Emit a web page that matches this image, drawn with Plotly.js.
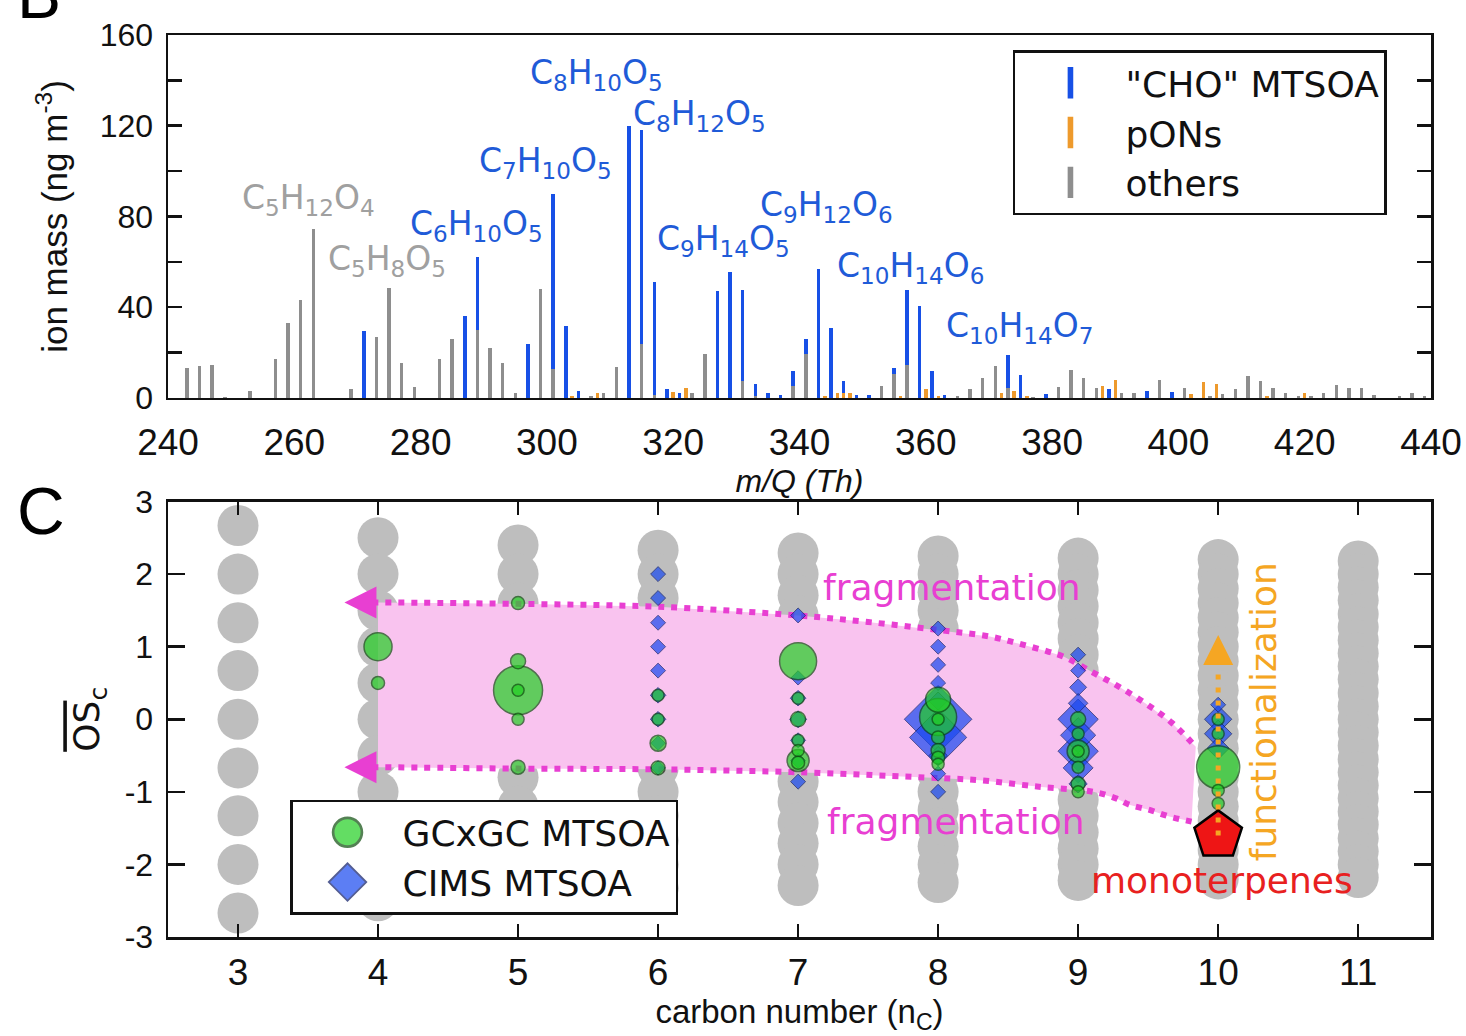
<!DOCTYPE html>
<html><head><meta charset="utf-8">
<script src="https://cdn.plot.ly/plotly-3.0.1.min.js"></script>
<style>html,body{margin:0;padding:0;background:#fff;}#chart{width:1466px;height:1036px;}</style>
</head><body><div id="chart"></div>
<script>
// ---------- Panel B : mass spectrum (m/Q, ion mass ng m-3) ----------
const othersMz  = [243,245,247,249,253,257,259,261,263,269,273,275,277,279,283,285,289,291,293,295,299,301,307,309,311,315,317,323,325,331,333,339,341,353,355,357,365,367,369,371,373,377,381,383,385,387,391,393,397,401,405,407,409,411,413,415,417,419,421,423,425,427,429,431,435,437,439];
const othersVal = [13,14,14.5,0.5,3,17,33,43,74.5,4,27,48.5,15.5,5,17.3,26,30,22,15.5,2,48,12.6,1,2.3,13.6,24,1.5,2,19.2,7.5,1,5.3,19.2,5.3,10.7,14.5,1,3.8,9,14,4.2,0.5,5,12.2,9,4.2,2.3,2.3,7.8,4.5,1,1.6,3.8,9.7,7.5,4.2,2.3,1,1,2.3,5.7,4.5,4.5,1.5,1,2,1];
const ponsMz    = [304,308,320,322,344,346,347,348,356,360,362,372,374,376,388,390,402,404,406,414,420];
const ponsVal   = [1,2.3,2.8,4.5,1,2,2.3,2,1,3.8,1,2.3,3,1,5.3,7.8,1.6,7.2,6,1,2.3];
const choMz     = [271,287,289,297,301,303,305,313,315,317,319,321,327,329,331,333,335,337,339,341,343,345,347,349,351,355,357,359,361,363,373,375,379,389,395,399];
const choVal    = [29.5,36,32,23.6,77.4,31.6,3,120,94,49.5,3.8,2.3,47,55.5,40.3,5,2,1.3,6.6,6.6,57,31,5.2,1.5,1.5,2.3,33.3,40.4,11.9,1.3,14.7,10,1.6,3.8,3.2,2.6];
const seriesNames = ['"CHO" MTSOA', 'pONs', 'others'];

const peakLabels = ['C<sub>5</sub>H<sub>12</sub>O<sub>4</sub>','C<sub>5</sub>H<sub>8</sub>O<sub>5</sub>','C<sub>6</sub>H<sub>10</sub>O<sub>5</sub>','C<sub>7</sub>H<sub>10</sub>O<sub>5</sub>','C<sub>8</sub>H<sub>10</sub>O<sub>5</sub>','C<sub>8</sub>H<sub>12</sub>O<sub>5</sub>','C<sub>9</sub>H<sub>14</sub>O<sub>5</sub>','C<sub>9</sub>H<sub>12</sub>O<sub>6</sub>','C<sub>10</sub>H<sub>14</sub>O<sub>6</sub>','C<sub>10</sub>H<sub>14</sub>O<sub>7</sub>'];
const peakLabelX = [262.3,274.7,288.9,299.7,307.9,324.2,328.0,344.2,357.5,374.9];
const peakLabelY = [87.3,60.8,76.2,103.6,142.4,124.3,69.6,84.2,57.7,30.9];
const peakLabelClass = ['others','others','cho','cho','cho','cho','cho','cho','cho','cho'];

// ---------- Panel C : OSc vs carbon number ----------
const gridC3  = [2.67,2,1.33,0.67,0,-0.67,-1.33,-2,-2.67];
const gridC4  = [2.5,2,1.5,1,0.5,0,-0.5,-1,-1.5,-2,-2.5];
const gridC5  = [2.4,2,1.6,1.2,0.8,0.4,0,-0.4,-0.8,-1.2,-1.6,-2,-2.4];
const gridC6  = [2.33,2,1.67,1.33,1,0.67,0.33,0,-0.33,-0.67,-1,-1.33,-1.67,-2,-2.33];
const gridC7  = [2.29,2,1.71,1.43,1.14,0.86,0.57,0.29,0,-0.29,-0.57,-0.86,-1.14,-1.43,-1.71,-2,-2.29];
const gridC8  = [2.25,2,1.75,1.5,1.25,1,0.75,0.5,0.25,0,-0.25,-0.5,-0.75,-1,-1.25,-1.5,-1.75,-2,-2.25];
const gridC9  = [2.22,2,1.78,1.56,1.33,1.11,0.89,0.67,0.44,0.22,0,-0.22,-0.44,-0.67,-0.89,-1.11,-1.33,-1.56,-1.78,-2,-2.22];
const gridC10 = [2.2,2,1.8,1.6,1.4,1.2,1,0.8,0.6,0.4,0.2,0,-0.2,-0.4,-0.6,-0.8,-1,-1.2,-1.4,-1.6,-1.8,-2,-2.2];
const gridC11 = [2.18,2,1.82,1.64,1.45,1.27,1.09,0.91,0.73,0.55,0.36,0.18,0,-0.18,-0.36,-0.55,-0.73,-0.91,-1.09,-1.27,-1.45,-1.64,-1.82,-2,-2.18];
const gridCarbons = [3,4,5,6,7,8,9,10,11];

const gcCarbon = [4,4, 5,5,5,5,5,5, 6,6,6,6, 7,7,7,7,7,7,7, 8,8,8,8,8,8,8, 9,9,9,9,9,9,9, 10,10,10,10,10];
const gcOSc    = [1.0,0.5, 0.4,1.6,0.8,0.4,0.0,-0.66, 0.33,0.0,-0.33,-0.67, 0.8,-0.57,0.29,0.0,-0.29,-0.43,-0.6, 0.03,0.27,0.0,-0.25,-0.43,-0.53,-0.62, -0.44,0.0,-0.2,-0.44,-0.66,-0.89,-1.0, -0.66,0.0,-0.2,-0.98,-1.16];
const gcAbund  = [28,13, 49,13,15,12,12,14, 12,12,16,14, 37,22,12,15,12,12,13, 37,25,12,13,14,13,12, 22,15,12,12,12,14,12, 43,12,12,12,12];

const cimsCarbon = [6,6,6,6,6,6,6,6,6, 7,7,7,7,7,7,7, 8,8,8,8,8,8,8,8,8,8, 9,9,9,9,9,9,9,9,9, 10,10,10,10];
const cimsOSc    = [2.0,1.67,1.33,1.0,0.67,0.33,0.0,-0.33,-0.67, 1.43,0.57,0.29,0.0,-0.29,-0.57,-0.86, 0.0,-0.25,1.25,1.0,0.75,0.5,0.25,-0.5,-0.75,-1.0, 0.0,-0.44,-0.22,-0.67,0.89,0.67,0.44,0.22,-0.89, 0.0,-0.2,-0.4,0.2];
const cimsAbund  = [11.5,11.5,11.5,11.5,11.5,12,12,11,11, 11.5,11,12,13,11.5,11.5,11.5, 52,44,11.5,11.5,11.5,11.5,14,14,11.5,11.5, 31,31,27,23,11.5,11.5,13,15,14, 21,21,17,11.5];

const fragUpperX = [4.0,5.0,6.0,7.0,7.5,8.0,8.37,8.58,8.79,8.9,9.1,9.29,9.48,9.67,9.84];
const fragUpperY = [1.61,1.59,1.55,1.43,1.34,1.23,1.14,1.04,0.93,0.86,0.65,0.45,0.22,-0.05,-0.38];
const fragLowerX = [4.0,5.0,6.0,7.0,8.0,8.3,8.72,9.11,9.27,9.37,9.51,9.65,9.81];
const fragLowerY = [-0.66,-0.68,-0.69,-0.73,-0.81,-0.84,-0.93,-1.0,-1.09,-1.18,-1.25,-1.34,-1.41];
const fragTipX = [3.76,3.76];
const fragTipY = [1.61,-0.66];
const monoC = [10];
const monoOSc = [-1.6];
const funcX = [10,10];
const funcY = [-1.6,0.72];
const funcTipX = [10];
const funcTipY = [1.16];

const oscTickVals = [-3,-2,-1,0,1,2,3];
const oscTickText = ['-3','-2','-1','0','1','2','3'];

// ---------- styles ----------
const BLUE='#1750e6', ORANGE='#ee9a2c', GRAY='#8e8e8e';
const MAG='#e83fd2', PINK='#f9c3ef', GREEN='#22cf22', DBLUE='#1848f0';
const LBL='DejaVu Sans';

const traces = [];
traces.push({type:'bar', x:othersMz, y:othersVal, marker:{color:GRAY}, width:0.55, xaxis:'x', yaxis:'y', showlegend:false, name:seriesNames[2]});
traces.push({type:'bar', x:ponsMz, y:ponsVal, marker:{color:ORANGE}, width:0.55, xaxis:'x', yaxis:'y', showlegend:false, name:seriesNames[1]});
traces.push({type:'bar', x:choMz, y:choVal, marker:{color:BLUE}, width:0.55, xaxis:'x', yaxis:'y', showlegend:false, name:seriesNames[0]});
[[seriesNames[0],BLUE],[seriesNames[1],ORANGE],[seriesNames[2],GRAY]].forEach(([n,c],i)=>{
  traces.push({type:'scatter', mode:'markers', x:[null], y:[null], name:n, legend:'legend', legendrank:i+1, xaxis:'x', yaxis:'y',
    marker:{symbol:'line-ns-open', size:16, color:c, line:{color:c, width:4}}});
});

const gx=[], gy=[];
const gridCols=[gridC3,gridC4,gridC5,gridC6,gridC7,gridC8,gridC9,gridC10,gridC11];
gridCols.forEach((col,i)=>col.forEach(v=>{gx.push(gridCarbons[i]); gy.push(v);}));
traces.push({type:'scatter', mode:'markers', x:gx, y:gy, xaxis:'x2', yaxis:'y2', showlegend:false,
  marker:{size:41, color:'#bebebe', line:{width:0}}});
traces.push({type:'scatter', mode:'lines', x:fragUpperX.concat(fragLowerX.slice().reverse()), y:fragUpperY.concat(fragLowerY.slice().reverse()),
  fill:'toself', fillcolor:PINK, line:{width:0}, xaxis:'x2', yaxis:'y2', showlegend:false, hoverinfo:'skip'});
traces.push({type:'scatter', mode:'lines', x:[fragTipX[0]+0.2].concat(fragUpperX), y:[fragUpperY[0]].concat(fragUpperY), line:{color:MAG, width:6, dash:'6px,7px', shape:'spline'}, xaxis:'x2', yaxis:'y2', showlegend:false});
traces.push({type:'scatter', mode:'lines', x:[fragTipX[1]+0.2].concat(fragLowerX), y:[fragLowerY[0]].concat(fragLowerY), line:{color:MAG, width:6, dash:'6px,7px', shape:'spline'}, xaxis:'x2', yaxis:'y2', showlegend:false});
traces.push({type:'scatter', mode:'markers', x:fragTipX, y:fragTipY, marker:{symbol:'arrow-left', size:32, color:MAG, line:{width:0}}, xaxis:'x2', yaxis:'y2', showlegend:false});
traces.push({type:'scatter', mode:'markers', x:cimsCarbon, y:cimsOSc, name:'CIMS MTSOA', legend:'legend2', legendrank:2,
  marker:{symbol:'diamond', size:cimsAbund, color:DBLUE, line:{color:'#0b1a66', width:1}}, xaxis:'x2', yaxis:'y2'});
traces.push({type:'scatter', mode:'markers', x:gcCarbon, y:gcOSc, name:'GCxGC MTSOA', legend:'legend2', legendrank:1,
  marker:{symbol:'circle', size:gcAbund, color:GREEN, line:{color:'#0c4d0c', width:1.5}}, xaxis:'x2', yaxis:'y2'});
traces.push({type:'scatter', mode:'markers', x:monoC, y:monoOSc, marker:{symbol:'pentagon', size:50, color:'#ee1515', line:{color:'#000', width:2.5}}, xaxis:'x2', yaxis:'y2', showlegend:false});
traces.push({type:'scatter', mode:'lines', x:funcX, y:funcY, line:{color:'#f5a623', width:5, dash:'5px,8px'}, xaxis:'x2', yaxis:'y2', showlegend:false});
traces.push({type:'scatter', mode:'markers', x:funcTipX, y:funcTipY, marker:{symbol:'arrow-up', size:30, color:'#f5a623', line:{width:0}}, xaxis:'x2', yaxis:'y2', showlegend:false});

const annotations = peakLabels.map((t,i)=>({text:t, x:peakLabelX[i], y:peakLabelY[i], xref:'x', yref:'y', showarrow:false,
  font:{family:LBL, size:33, color: peakLabelClass[i]==='cho' ? '#1f5bd8' : '#a0a0a0'}}));
annotations.push({text:'fragmentation', x:8.10, y:1.81, xref:'x2', yref:'y2', showarrow:false, font:{family:LBL, size:36, color:MAG}});
annotations.push({text:'fragmentation', x:8.13, y:-1.41, xref:'x2', yref:'y2', showarrow:false, font:{family:LBL, size:36, color:MAG}});
annotations.push({text:'monoterpenes', x:10.03, y:-2.22, xref:'x2', yref:'y2', showarrow:false, font:{family:LBL, size:36, color:'#e82020'}});
annotations.push({text:'functionalization', x:10.32, y:0.11, xref:'x2', yref:'y2', showarrow:false, textangle:-90, font:{family:LBL, size:36, color:'#f5a623'}});
annotations.push({text:'C', x:-0.121, y:0.472, xref:'paper', yref:'paper', showarrow:false, font:{family:'Liberation Sans', size:66, color:'#000'}});
annotations.push({text:'B', x:-0.121, y:1.088, xref:'paper', yref:'paper', showarrow:false, font:{family:'Liberation Sans', size:66, color:'#000'}});

const axLine = {showline:true, linecolor:'#111', linewidth:2.5, mirror:'ticks', ticks:'inside', tickcolor:'#111', tickwidth:2.5, zeroline:false, showgrid:false};
const layout = {
  width:1466, height:1036, paper_bgcolor:'#fff', plot_bgcolor:'#fff',
  margin:{l:168, r:35, t:35, b:99}, barmode:'stack', bargap:0,
  font:{family:'Liberation Sans', color:'#111'},
  xaxis: Object.assign({}, axLine, {domain:[0,1], anchor:'y', range:[240,440], dtick:20, tick0:240, ticks:'', mirror:true,
    tickfont:{size:37}, ticklabelstandoff:10,
    title:{text:'<i>m/Q (Th)</i>', font:{size:32}, standoff:0}}),
  yaxis: Object.assign({}, axLine, {domain:[0.5976,1], anchor:'x', range:[0,160], dtick:40, ticklen:14,
    minor:{dtick:20, ticks:'inside', ticklen:14, tickcolor:'#111', tickwidth:2.5},
    tickfont:{size:32}, ticklabelstandoff:6,
    title:{text:'ion mass (ng m<sup>-3</sup>)', font:{size:35}, standoff:22}}),
  xaxis2: Object.assign({}, axLine, {domain:[0,1], anchor:'y2', range:[2.5,11.52], dtick:1, tick0:3, ticklen:13,
    tickfont:{size:37}, ticklabelstandoff:1,
    title:{text:'carbon number (n<sub>C</sub>)', font:{size:33}, standoff:0}}),
  yaxis2: Object.assign({}, axLine, {domain:[0,0.4828], anchor:'x2', range:[-3,3], tickmode:'array', tickvals:oscTickVals, ticktext:oscTickText, ticklen:17,
    tickfont:{size:32}, ticklabelstandoff:6,
    title:{text:'<span style="text-decoration:overline">OS</span><sub>c</sub>', font:{size:36, family:'DejaVu Sans'}, standoff:14}}),
  legend:{x:0.669, y:0.983, xanchor:'left', yanchor:'top', bgcolor:'#fff', bordercolor:'#111', borderwidth:2.5,
    font:{family:LBL, size:36, color:'#111'}, itemwidth:100, tracegroupgap:0, traceorder:'normal'},
  legend2:{x:0.0966, y:0.152, xanchor:'left', yanchor:'top', bgcolor:'#fff', bordercolor:'#111', borderwidth:2.5,
    font:{family:LBL, size:36, color:'#111'}, itemwidth:100, tracegroupgap:0, traceorder:'normal'},
  annotations: annotations,
  showlegend:true
};

Plotly.newPlot('chart', traces, layout, {displayModeBar:false, staticPlot:true}).then(()=>{
  document.querySelectorAll('.infolayer .legendpoints path').forEach(p=>{
    const t = p.getAttribute('transform') || '';
    const d = p.getAttribute('d') || '';
    const isLine = d.indexOf('V')>=0 && d.length<20;
    p.setAttribute('transform', t + (isLine ? ' scale(1.4)' : ' scale(1.8)'));
  });
});
</script></body></html>
